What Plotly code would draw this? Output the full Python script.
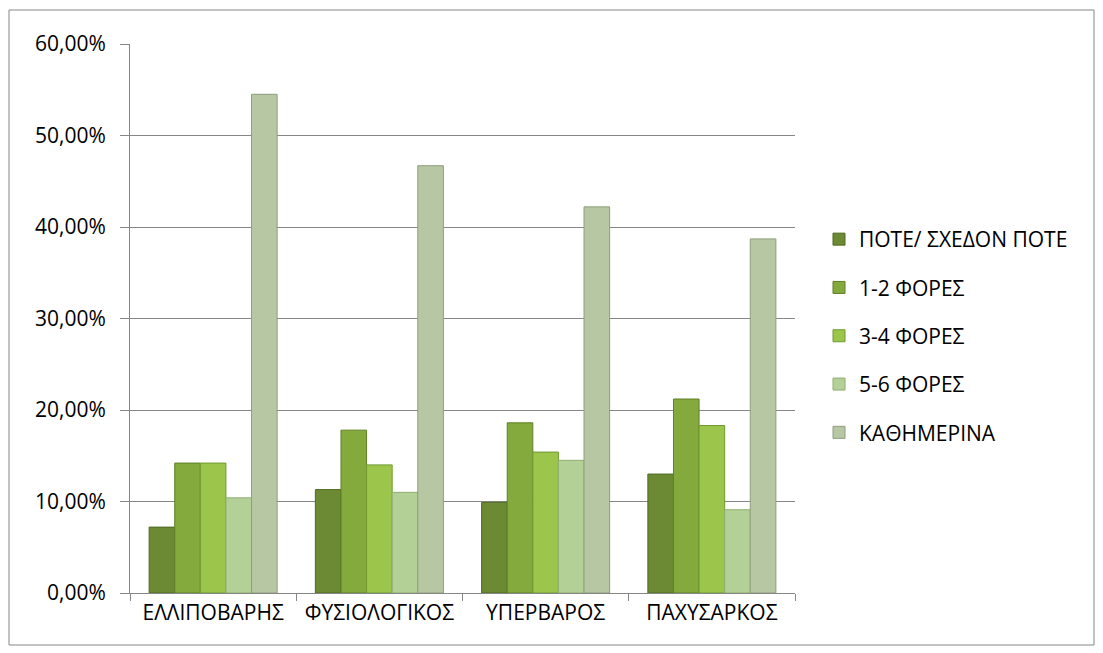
import plotly.graph_objects as go

categories = ["ΕΛΛΙΠΟΒΑΡΗΣ", "ΦΥΣΙΟΛΟΓΙΚΟΣ", "ΥΠΕΡΒΑΡΟΣ", "ΠΑΧΥΣΑΡΚΟΣ"]
series_names = ["ΠΟΤΕ/ ΣΧΕΔΟΝ ΠΟΤΕ", "1-2 ΦΟΡΕΣ", "3-4 ΦΟΡΕΣ", "5-6 ΦΟΡΕΣ", "ΚΑΘΗΜΕΡΙΝΑ"]
pote = [7.2, 11.3, 9.9, 13.0]
fores_1_2 = [14.2, 17.8, 18.6, 21.2]
fores_3_4 = [14.2, 14.0, 15.4, 18.3]
fores_5_6 = [10.4, 11.0, 14.5, 9.1]
kathimerina = [54.5, 46.7, 42.2, 38.7]
ytick_vals = [0, 10, 20, 30, 40, 50, 60]

series_values = [pote, fores_1_2, fores_3_4, fores_5_6, kathimerina]
fill_colors = ["#6c8a33", "#84a93d", "#9cc54c", "#b3d096", "#b7c7a3"]
edge_colors = ["#4e6a22", "#5f8026", "#6f9a2f", "#8fae72", "#8e9f7b"]

W, H = 1103, 653
L, R, T, B = 130, 308, 44, 60
pw, ph = W - L - R, H - T - B

fig = go.Figure()
for i, (name, vals) in enumerate(zip(series_names, series_values)):
    fig.add_trace(go.Bar(
        x=categories, y=[v / 100 for v in vals], name=name,
        legendgroup=f"g{i}",
        marker=dict(color=fill_colors[i], line=dict(color=edge_colors[i], width=1)),
    ))

font_family = "Open Sans, Noto Sans, DejaVu Sans, sans-serif"

def px_x(p):
    return (p - L) / pw

def px_y(p):
    return (H - B - p) / ph

fig.update_layout(
    width=W, height=H,
    margin=dict(l=L, r=R, t=T, b=B),
    paper_bgcolor="white", plot_bgcolor="white",
    separators=",.",
    barmode="group", bargap=0.23, bargroupgap=0,
    font=dict(family=font_family, size=22, color="#000000"),
    showlegend=True,
    legend=dict(
        x=px_x(819), y=px_y(336), xanchor="left", yanchor="middle",
        font=dict(family=font_family, size=21, color="#000000"),
        tracegroupgap=18, itemwidth=30, bgcolor="rgba(0,0,0,0)",
    ),
    xaxis=dict(
        showline=True, linecolor="#868686", linewidth=1,
        ticks="outside", tickson="boundaries", ticklen=7, tickcolor="#868686",
        tickfont=dict(family=font_family, size=21),
        ticklabelstandoff=1,
        showgrid=False,
    ),
    yaxis=dict(
        range=[0, 0.6], tickvals=[v / 100 for v in ytick_vals], tickformat=".2%",
        showline=True, linecolor="#868686", linewidth=1,
        ticks="outside", ticklen=9, tickcolor="#868686",
        ticklabelstandoff=10,
        showgrid=True, gridcolor="#868686", gridwidth=1,
        zeroline=False, tickfont=dict(family=font_family, size=21),
    ),
    shapes=[dict(
        type="rect", xref="paper", yref="paper",
        x0=px_x(9), x1=px_x(1094), y0=px_y(645), y1=px_y(10),
        line=dict(color="#868686", width=1), fillcolor="rgba(0,0,0,0)", layer="below",
    )],
)

fig.write_html("out.html")
